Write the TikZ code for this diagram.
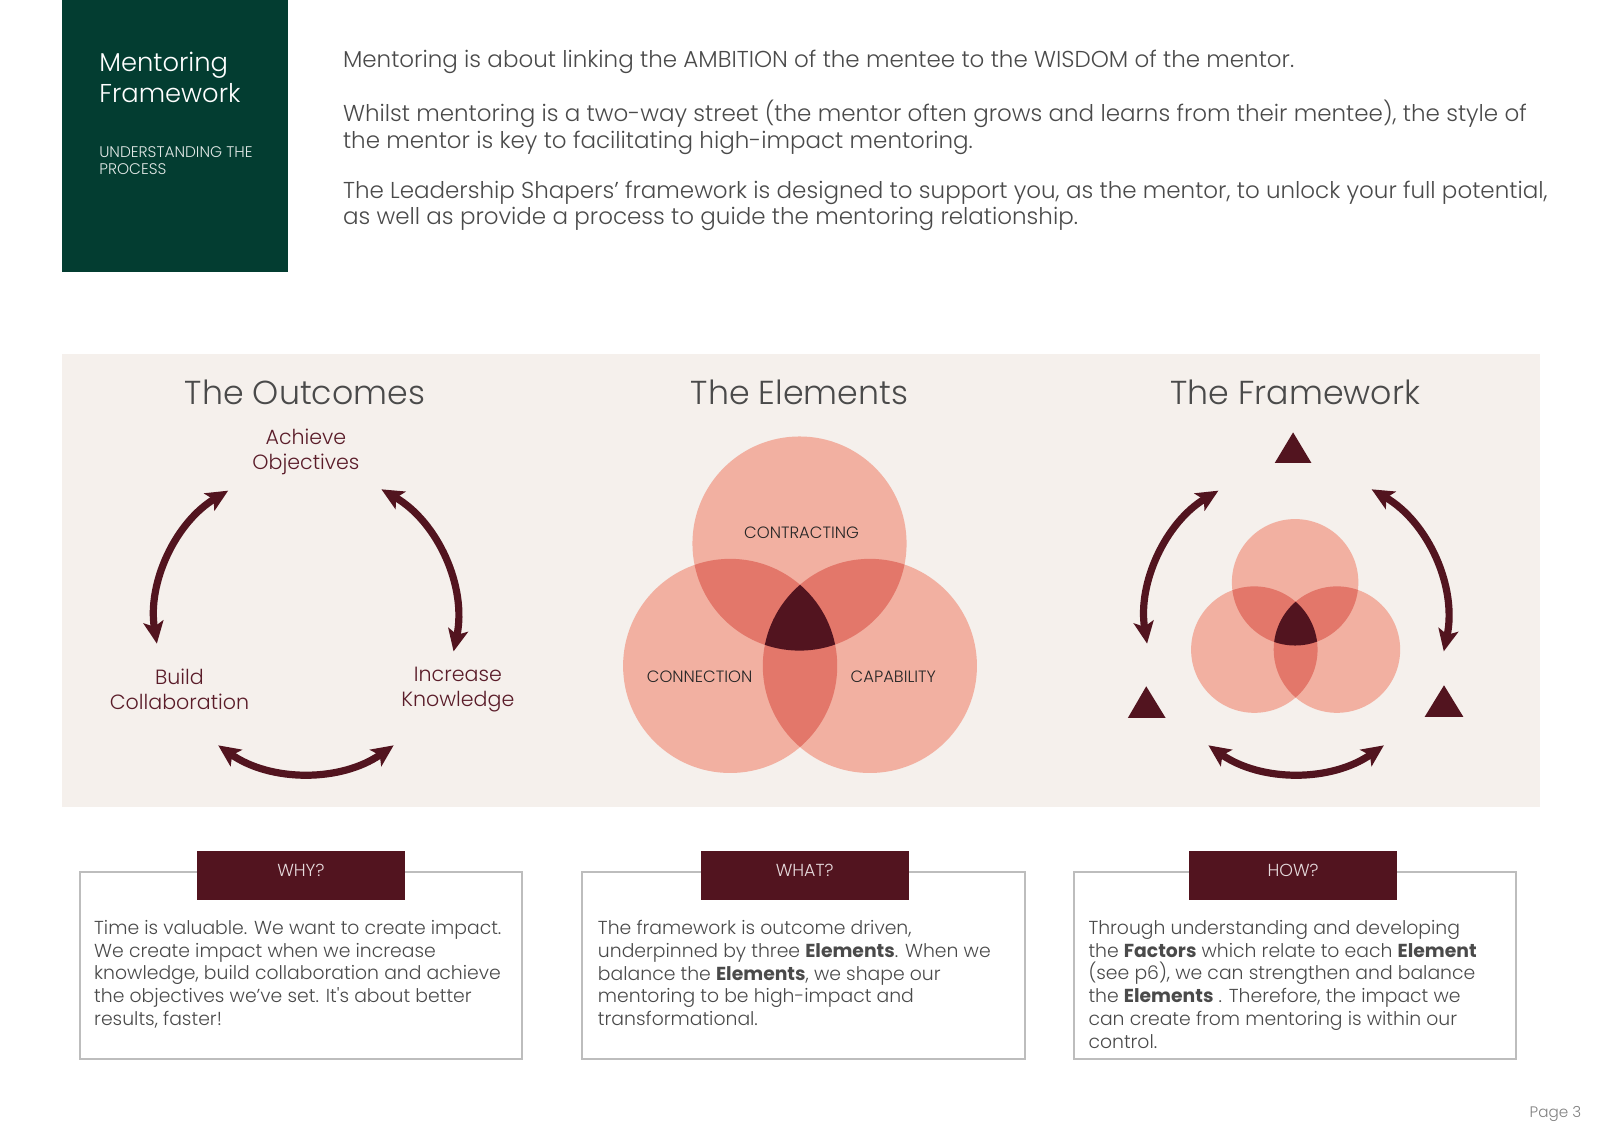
\documentclass[tikz,border=0pt]{standalone}
\usepackage{fontspec}
\setmainfont{Poppins}[UprightFont={* Light}, BoldFont={* Bold}]
\usetikzlibrary{arrows.meta}

\definecolor{deepgreen}{HTML}{033D31}
\definecolor{panelbeige}{HTML}{F5F0EC}
\definecolor{wine}{HTML}{52141F}
\definecolor{winetext}{HTML}{5A1C29}
\definecolor{salmon}{HTML}{F2B0A1}
\definecolor{overlap}{HTML}{E3776A}
\definecolor{bodygray}{HTML}{4A4A4A}
\definecolor{framegray}{HTML}{BDBDBD}
\definecolor{tabtext}{HTML}{E6DADC}

\tikzset{
    cyclearrow/.style={draw=wine, line width=3.6pt,
        {Stealth[length=11pt,width=10pt,inset=2.5pt]}-{Stealth[length=11pt,width=10pt,inset=2.5pt]}},
    coltitle/.style={font=\fontsize{16.6}{19}\selectfont, text=bodygray},
    outcome/.style={font=\fontsize{10.3}{12.3}\selectfont, text=winetext, align=center},
    element/.style={font=\fontsize{8.2}{9}\selectfont, text=black!85},
    intro/.style={anchor=north west, inner sep=0, align=left, text=bodygray,
        font=\fontsize{11.5}{13.3}\selectfont},
    bodytext/.style={anchor=north west, inner sep=0, align=left, text=bodygray,
        font=\fontsize{9.4}{11.4}\selectfont},
    tab/.style={fill=wine, text=tabtext, inner sep=0, minimum width=104pt,
        minimum height=24.5pt, text height=6pt, text depth=5pt,
        font=\fontsize{8.7}{9}\selectfont},
    textframe/.style={draw=framegray, line width=1pt},
}

\begin{document}
\begin{tikzpicture}[x=0.51pt,y=0.51pt]

    \useasboundingbox (0,0) rectangle (1567,1106);

    % header
    \fill[deepgreen] (61,1106) rectangle (282,839);
    \node[anchor=north west, inner sep=0, align=left, text=white,
        font=\fontsize{12.9}{15.3}\selectfont] (gtitle) at (97,1055) {Mentoring\\Framework};
    \node[anchor=north west, inner sep=0, align=left, text=white!88!deepgreen,
        font=\fontsize{7.7}{8.7}\selectfont] (gsub) at (97,963) {UNDERSTANDING THE\\PROCESS};

    \node[intro] (intro1) at (336,1057) {Mentoring is about linking the AMBITION of the mentee to the WISDOM of the mentor.};
    \node[intro] (intro2) at (336,1008) {Whilst mentoring is a two-way street (the mentor often grows and learns from their mentee), the style of\\the mentor is key to facilitating high-impact mentoring.};
    \node[intro] (intro3) at (336,929) {The Leadership Shapers’ framework is designed to support you, as the mentor, to unlock your full potential,\\as well as provide a process to guide the mentoring relationship.};

    % panel
    \fill[panelbeige] (61,759) rectangle (1510,315);

    \node[coltitle] (outtitle) at (299,721) {The Outcomes};
    \node[coltitle] (eletitle) at (784,721) {The Elements};
    \node[coltitle] (frmtitle) at (1270,721) {The Framework};

    % outcomes cycle
    \coordinate (outc) at (300,498);
    \node[outcome] (achieve) at (300,663) {Achieve\\Objectives};
    \node[outcome] (build) at (176,430) {Build\\Collaboration};
    \node[outcome] (increase) at (449,430) {Increase\\Knowledge};
    \draw[cyclearrow] ([shift={(121:148)}]outc) arc[start angle=121, end angle=189, radius=148];
    \draw[cyclearrow] ([shift={(60:148)}]outc) arc[start angle=60, end angle=-12, radius=148];
    \draw[cyclearrow] ([shift={(235:150)}]outc) arc[start angle=235, end angle=305, radius=150];

    % elements venn
    \coordinate (vtop) at (784,573);
    \coordinate (vleft) at (716,453);
    \coordinate (vright) at (853,453);
    \fill[salmon] (vtop) circle[radius=105] (vleft) circle[radius=105] (vright) circle[radius=105];
    \begin{scope}
        \clip (vtop) circle[radius=105];
        \fill[overlap] (vleft) circle[radius=105] (vright) circle[radius=105];
    \end{scope}
    \begin{scope}
        \clip (vleft) circle[radius=105];
        \fill[overlap] (vright) circle[radius=105];
    \end{scope}
    \begin{scope}
        \clip (vtop) circle[radius=105];
        \clip (vleft) circle[radius=105];
        \fill[wine] (vright) circle[radius=105];
    \end{scope}
    \node[element] (contracting) at (786,584) {CONTRACTING};
    \node[element] (connection) at (686,442) {CONNECTION};
    \node[element] (capability) at (876,442) {CAPABILITY};

    % framework
    \coordinate (frmc) at (1271,498);
    \coordinate (ftop) at (1270,535);
    \coordinate (fleft) at (1230,469);
    \coordinate (fright) at (1311,469);
    \fill[salmon] (ftop) circle[radius=62] (fleft) circle[radius=62] (fright) circle[radius=62];
    \begin{scope}
        \clip (ftop) circle[radius=62];
        \fill[overlap] (fleft) circle[radius=62] (fright) circle[radius=62];
    \end{scope}
    \begin{scope}
        \clip (fleft) circle[radius=62];
        \fill[overlap] (fright) circle[radius=62];
    \end{scope}
    \begin{scope}
        \clip (ftop) circle[radius=62];
        \clip (fleft) circle[radius=62];
        \fill[wine] (fright) circle[radius=62];
    \end{scope}
    \fill[wine] (1250,652) -- (1286,652) -- (1268,682) -- cycle;
    \fill[wine] (1106,402) -- (1143,402) -- (1124,433) -- cycle;
    \fill[wine] (1397,403) -- (1435,403) -- (1416,434) -- cycle;
    \draw[cyclearrow] ([shift={(121:148)}]frmc) arc[start angle=121, end angle=189, radius=148];
    \draw[cyclearrow] ([shift={(60:148)}]frmc) arc[start angle=60, end angle=-12, radius=148];
    \draw[cyclearrow] ([shift={(235:150)}]frmc) arc[start angle=235, end angle=305, radius=150];

    % why / what / how
    \draw[textframe] (78,251) rectangle (512,68);
    \draw[textframe] (571,251) rectangle (1005,68);
    \draw[textframe] (1053,251) rectangle (1487,68);
    \node[tab] (whytab) at (295,247) {WHY?};
    \node[tab] (whattab) at (789,247) {WHAT?};
    \node[tab] (howtab) at (1268,247) {HOW?};

    \node[bodytext] (whytext) at (92,204) {Time is valuable. We want to create impact.\\We create impact when we increase\\knowledge, build collaboration and achieve\\the objectives we’ve set. It\textquotesingle s about better\\results, faster!};
    \node[bodytext] (whattext) at (586,204) {The framework is outcome driven,\\underpinned by three \textbf{Elements}. When we\\balance the \textbf{Elements}, we shape our\\mentoring to be high-impact and\\transformational.};
    \node[bodytext] (howtext) at (1067,204) {Through understanding and developing\\the \textbf{Factors} which relate to each \textbf{Element}\\(see p6), we can strengthen and balance\\the \textbf{Elements} . Therefore, the impact we\\can create from mentoring is within our\\control.};

    \node[anchor=east, inner sep=0, text=gray, font=\fontsize{7.6}{8}\selectfont] (pagenum) at (1551,14) {Page 3};

\end{tikzpicture}
\end{document}
